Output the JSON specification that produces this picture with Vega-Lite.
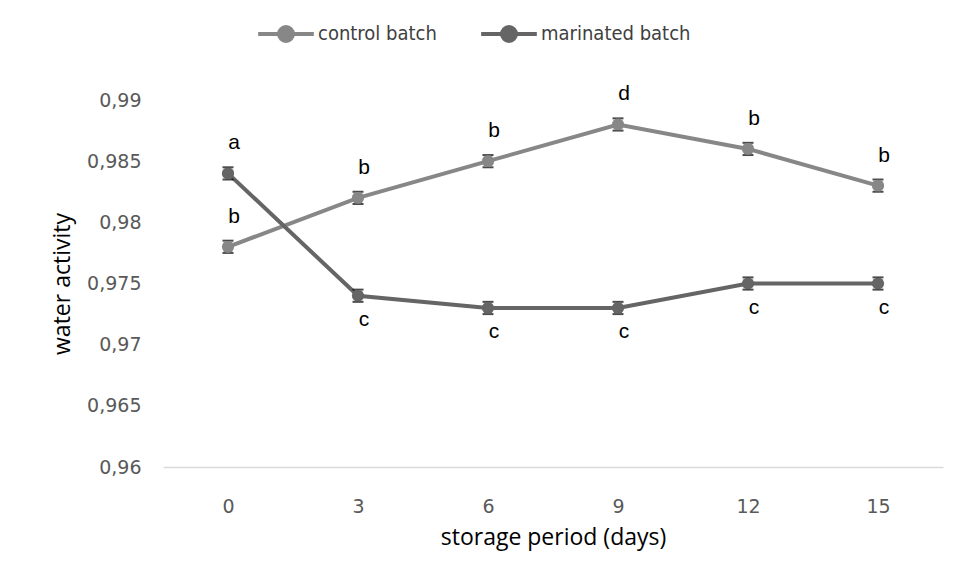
{
  "$schema": "https://vega.github.io/schema/vega-lite/v6.json",
  "width": 780,
  "height": 367,
  "autosize": {"type": "none"},
  "padding": {"left": 163, "top": 100, "right": 16, "bottom": 111},
  "background": "white",
  "config": {
    "view": {"stroke": null},
    "font": "Open Sans"
  },
  "data": {
    "values": [
      {"day": 0, "group": "control batch", "aw": 0.978, "err": 0.0005, "letter": "b"},
      {"day": 3, "group": "control batch", "aw": 0.982, "err": 0.0005, "letter": "b"},
      {"day": 6, "group": "control batch", "aw": 0.985, "err": 0.0005, "letter": "b"},
      {"day": 9, "group": "control batch", "aw": 0.988, "err": 0.0005, "letter": "d"},
      {"day": 12, "group": "control batch", "aw": 0.986, "err": 0.0005, "letter": "b"},
      {"day": 15, "group": "control batch", "aw": 0.983, "err": 0.0005, "letter": "b"},
      {"day": 0, "group": "marinated batch", "aw": 0.984, "err": 0.0005, "letter": "a"},
      {"day": 3, "group": "marinated batch", "aw": 0.974, "err": 0.0005, "letter": "c"},
      {"day": 6, "group": "marinated batch", "aw": 0.973, "err": 0.0005, "letter": "c"},
      {"day": 9, "group": "marinated batch", "aw": 0.973, "err": 0.0005, "letter": "c"},
      {"day": 12, "group": "marinated batch", "aw": 0.975, "err": 0.0005, "letter": "c"},
      {"day": 15, "group": "marinated batch", "aw": 0.975, "err": 0.0005, "letter": "c"}
    ]
  },
  "transform": [
    {"calculate": "datum.aw - datum.err", "as": "lo"},
    {"calculate": "datum.aw + datum.err", "as": "hi"}
  ],
  "encoding": {
    "x": {
      "field": "day",
      "type": "ordinal",
      "scale": {"type": "point", "padding": 0.5},
      "axis": {
        "title": "storage period (days)",
        "labelAngle": 0,
        "labelFont": "DejaVu Sans",
        "labelFontSize": 19,
        "labelColor": "#595959",
        "labelPadding": 30,
        "ticks": false,
        "domainColor": "#d9d9d9",
        "domainWidth": 1.5,
        "titleFont": "Open Sans",
        "titleFontSize": 23,
        "titleFontWeight": 500,
        "titleColor": "#000000",
        "titlePadding": 10
      }
    }
  },
  "layer": [
    {
      "mark": {"type": "line", "strokeWidth": 4},
      "encoding": {
        "y": {
          "field": "aw",
          "type": "quantitative",
          "scale": {"domain": [0.96, 0.99], "zero": false, "nice": false},
          "axis": {
            "title": "water activity",
            "values": [0.96, 0.965, 0.97, 0.975, 0.98, 0.985, 0.99],
            "labelExpr": "replace(format(datum.value, ''), '.', ',')",
            "labelFont": "DejaVu Sans",
            "labelFontSize": 19,
            "labelColor": "#595959",
            "labelPadding": 22,
            "ticks": false,
            "domain": false,
            "grid": false,
            "titleFont": "Open Sans",
            "titleFontSize": 23,
            "titleFontWeight": 500,
            "titleColor": "#000000",
            "titlePadding": 12
          }
        },
        "color": {
          "field": "group",
          "type": "nominal",
          "scale": {"domain": ["control batch", "marinated batch"], "range": ["#878787", "#656565"]},
          "legend": {
            "title": null,
            "orient": "none",
            "direction": "horizontal",
            "legendX": 93,
            "legendY": -96,
            "symbolType": "M-1,0L1,0M-0.25,0A0.25,0.25,0,1,0,0.25,0A0.25,0.25,0,1,0,-0.25,0Z",
            "symbolSize": 3100,
            "symbolStrokeWidth": 4,
            "labelFont": "Liberation Sans Narrow, DejaVu Sans Condensed, Roboto Condensed, sans-serif",
            "labelFontSize": 20,
            "labelColor": "#404040",
            "labelOffset": 2,
            "columnPadding": 36
          }
        }
      }
    },
    {
      "mark": {"type": "rule", "color": "black", "strokeWidth": 1.5},
      "encoding": {
        "y": {"field": "lo", "type": "quantitative"},
        "y2": {"field": "hi"}
      }
    },
    {
      "mark": {"type": "tick", "color": "black", "thickness": 2, "size": 11, "orient": "horizontal"},
      "encoding": {"y": {"field": "lo", "type": "quantitative"}}
    },
    {
      "mark": {"type": "tick", "color": "black", "thickness": 2, "size": 11, "orient": "horizontal"},
      "encoding": {"y": {"field": "hi", "type": "quantitative"}}
    },
    {
      "mark": {"type": "point", "filled": true, "size": 150, "opacity": 1},
      "encoding": {
        "y": {"field": "aw", "type": "quantitative"},
        "color": {"field": "group", "type": "nominal"}
      }
    },
    {
      "transform": [{"filter": "datum.group == 'control batch' || datum.day == 0"}],
      "mark": {"type": "text", "dx": 6, "dy": -30, "font": "Liberation Sans", "fontSize": 21, "color": "#000000"},
      "encoding": {
        "y": {"field": "aw", "type": "quantitative"},
        "text": {"field": "letter"}
      }
    },
    {
      "transform": [{"filter": "datum.group == 'marinated batch' && datum.day != 0"}],
      "mark": {"type": "text", "dx": 6, "dy": 24, "font": "Liberation Sans", "fontSize": 21, "color": "#000000"},
      "encoding": {
        "y": {"field": "aw", "type": "quantitative"},
        "text": {"field": "letter"}
      }
    }
  ]
}
